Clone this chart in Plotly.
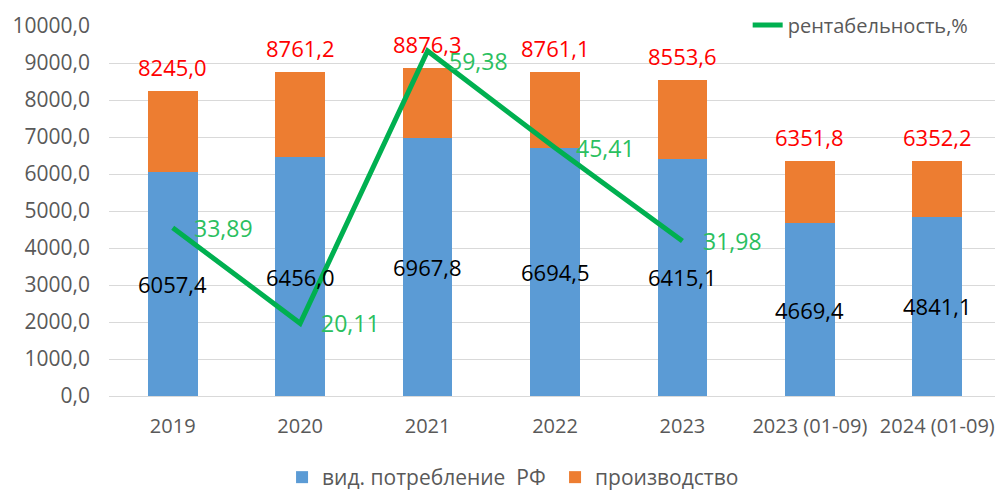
import plotly.graph_objects as go

categories = ["2019", "2020", "2021", "2022", "2023", "2023 (01-09)", "2024 (01-09)"]
consumption = [6057.4, 6456.0, 6967.8, 6694.5, 6415.1, 4669.4, 4841.1]
production = [8245.0, 8761.2, 8876.3, 8761.1, 8553.6, 6351.8, 6352.2]
rent_categories = ["2019", "2020", "2021", "2022", "2023"]
rentability = [33.89, 20.11, 59.38, 45.41, 31.98]

orange_part = [p - c for p, c in zip(production, consumption)]

def fmt(v, d=1):
    return f"{v:.{d}f}".replace(".", ",")

BLUE = "#5B9BD5"
ORANGE = "#ED7D31"
GREEN = "#00B050"
GREEN_TXT = "#2BBF60"
GRAY = "#595959"
FONT = "Open Sans"

# page body has an 8px default margin, so the figure is 8px smaller than the window
W, H = 995, 482
ML, MR, MT, MB = 101, 2, 18, 94
PH = H - MT - MB
PW = W - ML - MR

fig = go.Figure()
fig.add_trace(go.Bar(
    x=categories, y=consumption, name="вид. потребление\u00a0\u00a0РФ",
    marker=dict(color=BLUE, line=dict(width=0)), legend="legend",
    hoverinfo="y",
))
fig.add_trace(go.Bar(
    x=categories, y=orange_part, name="производство",
    marker=dict(color=ORANGE, line=dict(width=0)), legend="legend",
    customdata=production, hovertemplate="%{customdata}<extra></extra>",
))
fig.add_trace(go.Scatter(
    x=rent_categories, y=rentability, name="рентабельность,%",
    mode="lines", line=dict(color=GREEN, width=5), yaxis="y2",
    legend="legend2",
))

annotations = []
for i, v in enumerate(consumption):
    annotations.append(dict(x=i, y=v / 2, xref="x", yref="y", text=fmt(v),
                            showarrow=False, font=dict(family=FONT, size=22, color="#000000")))
for i, v in enumerate(production):
    annotations.append(dict(x=i, y=v, xref="x", yref="y", text=fmt(v), yshift=24,
                            showarrow=False, font=dict(family=FONT, size=22, color="#FF0000")))
label_dy = {"2021": -10}
for c, v in zip(rent_categories, rentability):
    annotations.append(dict(x=categories.index(c), y=v, xref="x", yref="y2", text=fmt(v, 2),
                            xanchor="left", xshift=19, yshift=label_dy.get(c, 0),
                            showarrow=False, font=dict(family=FONT, size=23, color=GREEN_TXT)))

fig.update_layout(
    width=W, height=H,
    margin=dict(l=ML, r=MR, t=MT, b=MB, autoexpand=False),
    barmode="stack", bargap=0.61,
    plot_bgcolor="white", paper_bgcolor="white",
    separators=", ",
    font=dict(family=FONT, size=21, color=GRAY),
    xaxis=dict(type="category", range=[-0.5, len(categories) - 0.5], showgrid=False,
               showline=True, linecolor="#D9D9D9", automargin=False,
               linewidth=1, ticks="", tickfont=dict(size=20, color=GRAY),
               ticklabelstandoff=12),
    yaxis=dict(range=[0, 10000], dtick=1000, tickformat=".1f", showgrid=True,
               gridcolor="#D9D9D9", gridwidth=1, zeroline=False, showline=False,
               automargin=False,
               tickfont=dict(size=21, color=GRAY), ticklabelstandoff=18),
    yaxis2=dict(range=[9.63, 62.97], overlaying="y", side="right", visible=False,
                showgrid=False),
    legend=dict(orientation="h", x=0.194, xanchor="left", y=-(MB + 8) / PH, yanchor="bottom",
                font=dict(family=FONT, size=21, color=GRAY), bgcolor="rgba(0,0,0,0)",
                traceorder="normal", entrywidth=228),
    legend2=dict(orientation="h", x=0.716, xanchor="left", y=1 + 1 / PH, yanchor="middle",
                 font=dict(family=FONT, size=20, color=GRAY), bgcolor="rgba(0,0,0,0)"),
    annotations=annotations,
)

fig.write_html("out.html")
